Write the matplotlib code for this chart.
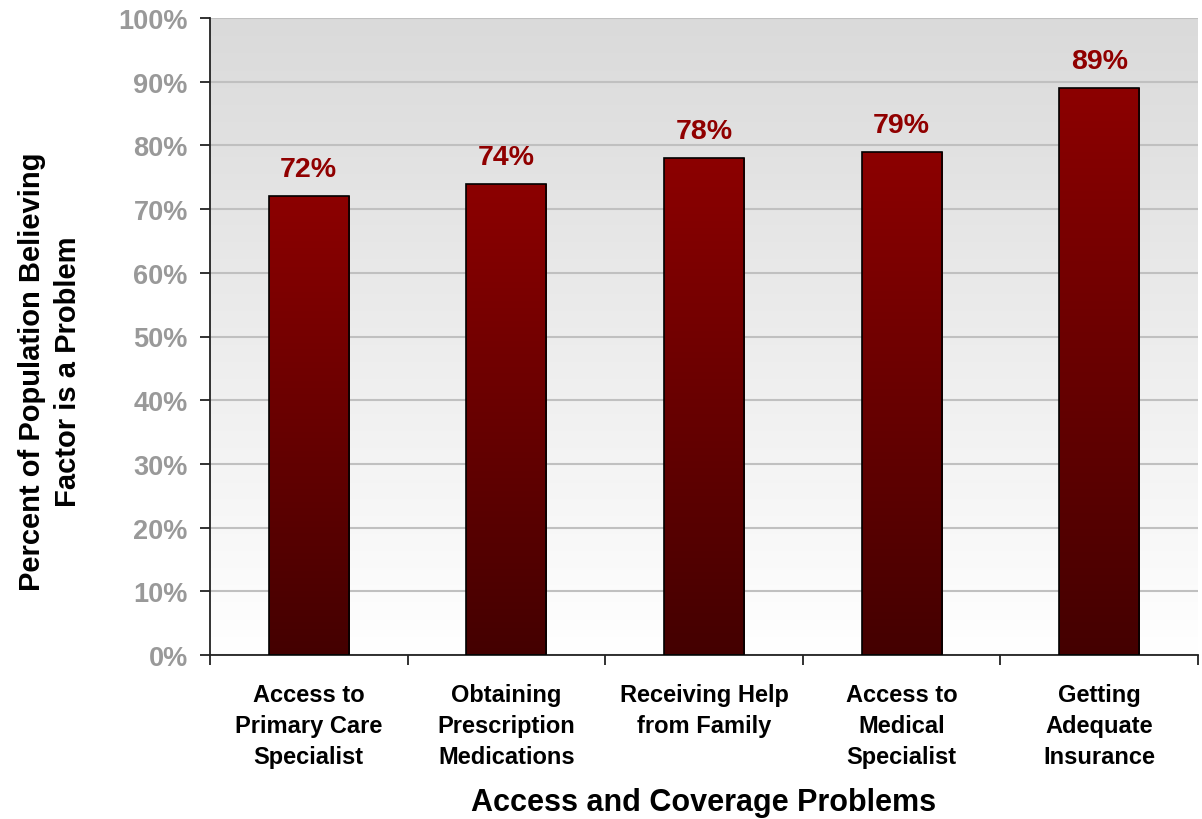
import numpy as np
import matplotlib.pyplot as plt
from matplotlib.colors import LinearSegmentedColormap

# data
categories = ["Access to\nPrimary Care\nSpecialist",
              "Obtaining\nPrescription\nMedications",
              "Receiving Help\nfrom Family",
              "Access to\nMedical\nSpecialist",
              "Getting\nAdequate\nInsurance"]
values = [72, 74, 78, 79, 89]
yticks = [0, 10, 20, 30, 40, 50, 60, 70, 80, 90, 100]

plt.rcParams['font.family'] = ['Liberation Sans', 'DejaVu Sans']
plt.rcParams['font.weight'] = 'bold'

fig = plt.figure(figsize=(12.02, 8.2), dpi=100)
ax = fig.add_axes([210 / 1202, 1 - 656 / 820, (1198 - 210) / 1202, (656 - 19) / 820])

x = np.arange(len(values))
ax.set_xlim(-0.5, len(values) - 0.5)
ax.set_ylim(0, 100)

# plot-area background: white at bottom fading to light gray at top
bg = LinearSegmentedColormap.from_list("bg", ["#ffffff", "#dadada"])
grad = np.linspace(0, 1, 256).reshape(-1, 1)
ax.imshow(grad, extent=[-0.5, len(values) - 0.5, 0, 100], origin="lower",
          aspect="auto", cmap=bg, zorder=0)

ax.set_yticks(yticks)
ax.yaxis.grid(True, color="#c0c0c0", linewidth=1.5, zorder=1)
ax.set_axisbelow(True)

# bars with vertical red gradient
bar_cmap = LinearSegmentedColormap.from_list("bar", ["#440000", "#8c0000"])
bars = ax.bar(x, values, width=0.405, facecolor="none", edgecolor="black",
              linewidth=1.2, zorder=3)
for b, v in zip(bars, values):
    x0 = b.get_x()
    im = ax.imshow(grad, extent=[x0, x0 + b.get_width(), 0, v], origin="lower",
                   aspect="auto", cmap=bar_cmap, zorder=2)
    im.set_clip_path(b)
    ax.text(b.get_x() + b.get_width() / 2, v + 2.2, f"{v}%", ha="center",
            va="bottom", fontsize=20.5, fontweight="bold", color="#900000")

ax.set_yticklabels([f"{t}%" for t in yticks], fontsize=19.5, color="#999999",
                   fontweight="bold")
ax.tick_params(axis="y", length=7, width=1.3, color="#222222", pad=9)

# x ticks at category boundaries, labels at centres
ax.set_xticks(np.arange(-0.5, len(values), 1))
ax.set_xticklabels([])
ax.tick_params(axis="x", which="major", length=7, width=1.3, color="#222222",
               direction="out")
ax.set_xticks(x, minor=True)
ax.set_xticklabels(categories, minor=True, fontsize=17, fontweight="bold",
                   linespacing=1.45)
ax.tick_params(axis="x", which="minor", length=0, pad=20)

for s in ["top", "right"]:
    ax.spines[s].set_visible(False)
ax.spines["left"].set_color("#222222")
ax.spines["bottom"].set_color("#222222")
ax.spines["left"].set_linewidth(1.3)
ax.spines["bottom"].set_linewidth(1.3)

ax.set_xlabel("Access and Coverage Problems", fontsize=22, fontweight="bold",
              labelpad=14)
fig.text(50 / 1202, 1 - 372 / 820,
         "Percent of Population Believing\nFactor is a Problem",
         rotation=90, ha="center", va="center", fontsize=21,
         fontweight="bold", linespacing=1.32)

fig.savefig("out.png", dpi=100)
